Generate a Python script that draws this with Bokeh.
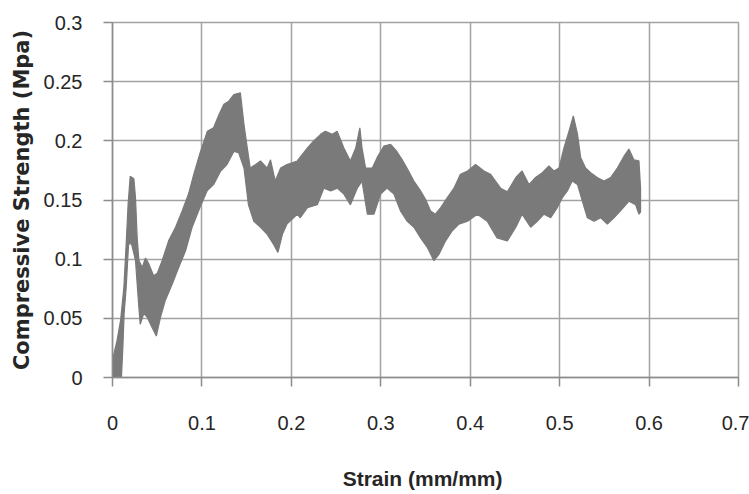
from bokeh.plotting import figure
from bokeh.models import Range1d, FixedTicker
from bokeh.embed import file_html
from bokeh.resources import INLINE

# Upper envelope of the noisy stress band (strain, MPa)
x_upper = [0.000, 0.005, 0.009, 0.0127, 0.0153, 0.0175, 0.0198, 0.0239, 0.0257, 0.0276,
           0.0295, 0.0332, 0.0369, 0.0406, 0.046, 0.050, 0.0556, 0.063, 0.0705, 0.078,
           0.085, 0.091, 0.098, 0.106, 0.113, 0.119, 0.1245, 0.130, 0.1357, 0.143,
           0.147, 0.1507, 0.154, 0.160, 0.1655, 0.173, 0.1767, 0.182, 0.188, 0.195,
           0.2066, 0.218, 0.225, 0.2327, 0.238, 0.2457, 0.2513, 0.2587, 0.266, 0.272,
           0.2766, 0.279, 0.283, 0.2905, 0.296, 0.3035, 0.311, 0.318, 0.324, 0.330,
           0.337, 0.3445, 0.350, 0.3557, 0.361, 0.367, 0.3744, 0.3818, 0.389, 0.397,
           0.406, 0.4154, 0.4228, 0.434, 0.4415, 0.451, 0.458, 0.4657, 0.473, 0.4806,
           0.488, 0.4936, 0.4993, 0.5048, 0.5104, 0.5153, 0.520, 0.5235, 0.529, 0.5347,
           0.542, 0.5496, 0.557, 0.5645, 0.572, 0.5775, 0.583, 0.5887, 0.5905]
y_upper = [0.015, 0.031, 0.048, 0.076, 0.113, 0.147, 0.170, 0.168, 0.152, 0.118,
           0.099, 0.093, 0.101, 0.096, 0.086, 0.088, 0.099, 0.116, 0.127, 0.141,
           0.155, 0.172, 0.190, 0.208, 0.211, 0.222, 0.231, 0.2335, 0.239, 0.2406,
           0.214, 0.194, 0.177, 0.180, 0.183, 0.177, 0.184, 0.166, 0.177, 0.180,
           0.183, 0.194, 0.200, 0.2055, 0.208, 0.2055, 0.208, 0.194, 0.183, 0.194,
           0.211, 0.194, 0.177, 0.177, 0.186, 0.1956, 0.197, 0.191, 0.184, 0.176,
           0.166, 0.1577, 0.1506, 0.1408, 0.138, 0.1436, 0.152, 0.160, 0.1717, 0.1745,
           0.180, 0.1745, 0.1717, 0.160, 0.157, 0.169, 0.1745, 0.163, 0.169, 0.173,
           0.1788, 0.1745, 0.177, 0.194, 0.208, 0.221, 0.2055, 0.186, 0.177, 0.173,
           0.169, 0.166, 0.169, 0.177, 0.187, 0.193, 0.184, 0.183, 0.160]

# Lower envelope of the band
x_lower = [0.000, 0.010, 0.0116, 0.013, 0.0153, 0.018, 0.0213, 0.0257, 0.0295, 0.031,
           0.035, 0.0388, 0.0444, 0.049, 0.0537, 0.059, 0.0668, 0.074, 0.0817, 0.089,
           0.098, 0.106, 0.113, 0.121, 0.128, 0.1357, 0.141, 0.147, 0.152, 0.158,
           0.1655, 0.173, 0.180, 0.185, 0.190, 0.195, 0.2066, 0.210, 0.218, 0.229,
           0.2363, 0.244, 0.2513, 0.2587, 0.266, 0.2737, 0.279, 0.285, 0.2923, 0.2998,
           0.307, 0.3147, 0.322, 0.3296, 0.337, 0.3445, 0.352, 0.3594, 0.365, 0.3725,
           0.380, 0.3874, 0.397, 0.408, 0.419, 0.430, 0.4415, 0.451, 0.458, 0.4676,
           0.475, 0.4825, 0.490, 0.4974, 0.503, 0.5086, 0.514, 0.520, 0.5254, 0.531,
           0.5384, 0.546, 0.5533, 0.5607, 0.568, 0.5775, 0.585, 0.5887, 0.5905]
y_lower = [0.000, 0.000, 0.0256, 0.054, 0.076, 0.113, 0.113, 0.099, 0.059, 0.045,
           0.054, 0.051, 0.042, 0.035, 0.051, 0.065, 0.079, 0.093, 0.107, 0.127,
           0.144, 0.158, 0.163, 0.1745, 0.180, 0.191, 0.190, 0.177, 0.146, 0.132,
           0.127, 0.121, 0.1127, 0.1057, 0.121, 0.1296, 0.138, 0.135, 0.1436, 0.146,
           0.160, 0.1577, 0.160, 0.155, 0.146, 0.160, 0.166, 0.138, 0.138, 0.155,
           0.160, 0.155, 0.1408, 0.132, 0.127, 0.118, 0.110, 0.0987, 0.104, 0.1155,
           0.124, 0.1296, 0.132, 0.138, 0.132, 0.118, 0.1155, 0.127, 0.138, 0.127,
           0.132, 0.138, 0.135, 0.1436, 0.152, 0.1577, 0.166, 0.163, 0.149, 0.135,
           0.132, 0.135, 0.1296, 0.135, 0.1408, 0.149, 0.146, 0.138, 0.140]

x_ticks = [0, 0.1, 0.2, 0.3, 0.4, 0.5, 0.6, 0.7]
x_tick_labels = ["0", "0.1", "0.2", "0.3", "0.4", "0.5", "0.6", "0.7"]
y_ticks = [0, 0.05, 0.1, 0.15, 0.2, 0.25, 0.3]
y_tick_labels = ["0", "0.05", "0.1", "0.15", "0.2", "0.25", "0.3"]

band_x = x_upper + x_lower[::-1]
band_y = y_upper + y_lower[::-1]

GRID = "#a2a2a2"
TXT = "#262626"

p = figure(width=749, height=494, output_backend="svg", toolbar_location=None,
           x_range=Range1d(0, 0.7), y_range=Range1d(0, 0.3),
           min_border_left=112, min_border_right=11, min_border_top=22, min_border_bottom=117)

p.patch(band_x, band_y, fill_color="#7a7a7a", line_color="#7a7a7a", line_width=1.2)

p.xaxis.ticker = FixedTicker(ticks=x_ticks)
p.yaxis.ticker = FixedTicker(ticks=y_ticks)
p.xaxis.major_label_overrides = {t: l for t, l in zip(x_ticks, x_tick_labels)}
p.yaxis.major_label_overrides = {t: l for t, l in zip(y_ticks, y_tick_labels)}

for ax in (p.xaxis, p.yaxis):
    ax.axis_line_color = "#8c8c8c"
    ax.axis_line_width = 1.5
    ax.major_tick_line_color = "#8c8c8c"
    ax.major_tick_line_width = 1.5
    ax.major_tick_out = 9
    ax.major_tick_in = 0
    ax.minor_tick_line_color = None
    ax.major_label_text_font = "Liberation Sans"
    ax.major_label_text_font_size = "20px"
    ax.major_label_text_color = TXT
    ax.axis_label_text_font_style = "bold"
    ax.axis_label_text_color = TXT

p.xaxis.major_label_standoff = 29
p.yaxis.major_label_standoff = 21

p.xaxis.axis_label = "Strain  (mm/mm)"
p.xaxis.axis_label_text_font = "Liberation Sans"
p.xaxis.axis_label_text_font_size = "21px"
p.xaxis.axis_label_standoff = 34

p.yaxis.axis_label = "Compressive Strength (Mpa)"
p.yaxis.axis_label_text_font = "DejaVu Sans"
p.yaxis.axis_label_text_font_size = "21px"
p.yaxis.axis_label_standoff = 7

p.xgrid.grid_line_color = GRID
p.ygrid.grid_line_color = GRID
p.xgrid.grid_line_width = 1.5
p.ygrid.grid_line_width = 1.5
p.outline_line_color = GRID
p.outline_line_width = 1.5
p.background_fill_color = "white"
p.border_fill_color = "white"

open("out.html", "w").write(file_html(p, INLINE))
